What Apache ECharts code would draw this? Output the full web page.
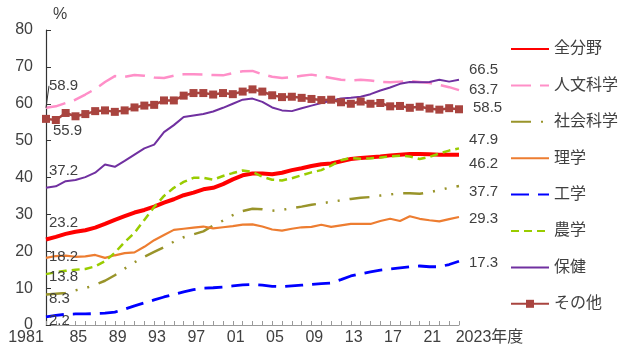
<!DOCTYPE html>
<html>
<head>
<meta charset="utf-8">
<script src="https://cdn.jsdelivr.net/npm/echarts@6.0.0/dist/echarts.min.js"></script>
<style>
  html, body { margin: 0; padding: 0; background: #fff; }
  #chart { width: 619px; height: 347px; }
</style>
</head>
<body>
<div id="chart"></div>
<script>
// 専攻分野別の女性比率（%）、1981〜2023年度
const years = ['1981','1982','1983','1984','1985','1986','1987','1988','1989','1990',
  '1991','1992','1993','1994','1995','1996','1997','1998','1999','2000',
  '2001','2002','2003','2004','2005','2006','2007','2008','2009','2010',
  '2011','2012','2013','2014','2015','2016','2017','2018','2019','2020',
  '2021','2022','2023'];

const tickYears = ['1981','1985','1989','1993','1997','2001','2005','2009','2013','2017','2021','2023'];
const tickTexts = ['1981','85','89','93','97','01','05','09','13','17','21','2023年度'];

const seriesNames = ['全分野','人文科学','社会科学','理学','工学','農学','保健','その他'];

const allFields = [23.2,23.9,24.7,25.3,25.7,26.4,27.4,28.5,29.5,30.5,31.2,32.1,33.2,34.1,35.2,
  35.9,36.8,37.2,38.2,39.5,40.6,41.1,41.1,40.9,41.3,42.0,42.5,43.1,43.6,
  43.8,44.4,45.0,45.3,45.5,45.7,46.0,46.2,46.4,46.4,46.3,46.2,46.2,46.2];
const humanities = [58.9,59.3,60.2,61.1,62.5,64.0,65.9,67.5,67.3,67.8,67.6,67.1,67.0,67.6,68.0,
  68.0,67.9,67.8,67.7,68.3,68.8,68.9,68.0,67.3,67.0,67.2,67.6,67.9,67.5,
  67.0,66.5,66.3,66.5,66.3,65.9,65.8,66.0,66.2,65.9,65.6,65.1,64.5,63.7];
const socialSci = [8.3,8.5,8.7,9.4,10.0,10.9,12.0,13.5,15.3,17.0,18.5,19.8,21.1,22.6,23.8,
  24.6,25.4,27.0,28.3,29.8,30.9,31.5,31.4,31.0,31.2,31.7,32.1,32.6,33.0,
  33.4,33.8,34.2,34.5,34.7,35.1,35.4,35.7,35.7,35.6,36.0,36.6,37.2,37.7];
const science = [18.2,18.7,18.8,18.5,18.6,19.0,18.2,18.9,19.5,19.7,21.2,23.0,24.4,25.8,26.1,
  26.4,26.7,26.2,26.5,26.8,27.2,27.3,26.7,25.9,25.6,26.1,26.5,26.6,27.2,
  26.6,27.0,27.4,27.4,27.4,28.2,28.8,28.2,29.5,28.8,28.4,28.1,28.7,29.3];
const engineering = [2.2,2.6,2.9,3.0,3.0,3.1,3.2,3.5,4.3,5.2,6.0,6.8,7.6,8.3,9.0,
  9.6,10.0,10.1,10.3,10.6,10.9,11.0,10.8,10.5,10.4,10.6,10.8,11.0,11.2,
  11.4,12.3,13.3,13.9,14.4,14.9,15.2,15.5,15.8,16.0,15.8,15.8,16.4,17.3];
const agriculture = [13.8,14.3,14.7,15.0,15.2,15.9,17.3,19.6,22.5,25.0,28.5,32.0,35.0,37.2,38.8,
  39.9,39.9,39.4,40.4,41.2,41.9,41.5,40.2,39.4,39.2,39.8,40.6,41.4,42.0,
  43.2,44.7,45.3,45.1,45.2,45.4,45.7,45.9,45.7,45.0,45.6,46.5,47.3,47.9];
const health = [37.2,37.6,39.0,39.3,40.1,41.3,43.5,42.9,44.5,46.2,47.9,48.9,52.3,54.2,56.4,
  56.8,57.2,57.9,58.9,60.0,61.1,61.4,60.5,59.0,58.2,58.0,58.8,59.5,60.2,
  60.8,61.4,61.6,61.9,62.6,63.6,64.4,65.4,65.9,65.8,65.9,66.5,66.0,66.5];
const others = [55.9,55.6,57.5,56.6,57.2,58.0,58.2,57.8,58.2,59.0,59.5,59.7,60.9,60.9,62.2,
  62.9,62.9,62.5,62.9,62.6,63.3,63.9,63.3,62.3,61.8,61.9,61.6,61.3,61.0,
  61.1,60.4,60.0,60.6,60.0,60.2,59.3,59.4,58.9,59.2,58.7,58.4,58.8,58.5];

const seriesValues = [allFields, humanities, socialSci, science, engineering, agriculture, health, others];

// Line appearance and the vertical nudges of the first/last value labels.
// "guide" moves the first label with a leader line back to its point.
const looks = [
  { color: '#ff0000', width: 4,   type: 'solid',          symbol: 'none', startDy: -17, endDy: 9 },
  { color: '#ff8fc8', width: 2.5, type: [20, 9],          symbol: 'none', startDy: 0, endDy: -2, guide: -22 },
  { color: '#99942a', width: 2.5, type: [20, 10, 2, 10, 2, 10], symbol: 'none', startDy: 4, endDy: 6 },
  { color: '#ed7d31', width: 2.2, type: 'solid',          symbol: 'none', startDy: -1, endDy: 2 },
  { color: '#0000ff', width: 2.8, type: [18, 9],          symbol: 'none', startDy: 4, endDy: 2 },
  { color: '#99cc00', width: 2.5, type: [8, 5],           symbol: 'none', startDy: 3, endDy: -9 },
  { color: '#7030a0', width: 2,   type: 'solid',          symbol: 'none', startDy: -17, endDy: -10 },
  { color: '#a9443f', width: 2.5, type: 'solid',          symbol: 'rect', startDy: 12, endDy: -1 }
];

const FONT = "'Liberation Sans', Arial, 'Noto Sans CJK JP', sans-serif";
const TEXT = '#404040';

function valueLabel(dy, dist) {
  return {
    show: true, position: 'right', distance: dist, offset: [0, dy],
    color: TEXT, fontSize: 15, fontFamily: FONT,
    formatter: p => Number(p.value).toFixed(1)
  };
}

const series = seriesNames.map((name, k) => {
  const look = looks[k];
  const vals = seriesValues[k];
  const last = vals.length - 1;
  const data = vals.map((v, i) => {
    if (i !== 0 && i !== last) return v;
    const item = {
      value: v,
      label: i === 0 ? valueLabel(look.startDy, 3) : valueLabel(look.endDy, 10)
    };
    if (i === 0 && look.guide !== undefined) {
      item.labelLine = { show: true, lineStyle: { color: '#333333', width: 1 } };
    }
    if (look.symbol === 'none') { item.symbol = 'circle'; item.symbolSize = 0; }
    return item;
  });
  const s = {
    name: name,
    type: 'line',
    data: data,
    symbol: look.symbol,
    symbolSize: 8,
    showSymbol: true,
    showAllSymbol: true,
    clip: false,
    itemStyle: { color: look.color },
    lineStyle: { color: look.color, width: look.width, type: look.type },
    emphasis: { disabled: true }
  };
  if (look.guide !== undefined) {
    s.labelLayout = params => (params.dataIndex === 0 ? { dy: look.guide } : {});
  }
  return s;
});

// Only その他 carries a marker in its legend key
const legendData = seriesNames.map((name, k) => (
  looks[k].symbol === 'none' ? { name: name, itemStyle: { opacity: 0 } } : { name: name }
));

function tickLabel(value) {
  const idx = tickYears.indexOf(value);
  if (idx < 0) return '';
  const text = tickTexts[idx];
  if (idx === 0) return '{first|' + text + '}';
  if (idx === tickTexts.length - 1) return '{last|' + text + '}';
  return '{mid|' + text + '}';
}

const chart = echarts.init(document.getElementById('chart'), null, { renderer: 'canvas' });
chart.setOption({
  animation: false,
  backgroundColor: '#ffffff',
  textStyle: { fontFamily: FONT },
  grid: { left: 46, right: 160, top: 30, bottom: 22, containLabel: false },
  legend: {
    orient: 'vertical',
    left: 505,
    top: 36,
    itemWidth: 38,
    itemHeight: 10,
    itemGap: 20.4,
    textStyle: { fontSize: 16, lineHeight: 16, color: TEXT, fontFamily: FONT },
    data: legendData
  },
  xAxis: {
    type: 'category',
    boundaryGap: false,
    data: years,
    axisLine: { lineStyle: { color: '#9a9a9a', width: 1 } },
    axisTick: { show: true, inside: true, length: 4, interval: 0, lineStyle: { color: '#9a9a9a' } },
    axisLabel: {
      interval: 0,
      margin: 5,
      color: TEXT,
      fontSize: 16,
      fontFamily: FONT,
      formatter: tickLabel,
      rich: {
        first: { fontSize: 16, color: TEXT, fontFamily: FONT, padding: [0, 40, 0, 0] },
        mid: { fontSize: 16, color: TEXT, fontFamily: FONT, padding: [0, 14, 0, 0] },
        last: { fontSize: 16, color: TEXT, fontFamily: FONT, padding: [0, 0, 0, 61] }
      }
    },
    splitLine: { show: false }
  },
  yAxis: {
    type: 'value',
    min: 0,
    max: 80,
    interval: 10,
    name: '%',
    nameLocation: 'end',
    nameGap: 15,
    nameTextStyle: { fontSize: 16, color: TEXT, fontFamily: FONT, align: 'left', verticalAlign: 'middle', padding: [0, 0, 0, 7] },
    axisLine: { show: true, lineStyle: { color: '#333333', width: 1.2 } },
    axisTick: { show: true, inside: true, length: 5, lineStyle: { color: '#333333' } },
    axisLabel: { color: TEXT, fontSize: 16, fontFamily: FONT, margin: 13 },
    splitLine: { show: false }
  },
  series: series
});
</script>
</body>
</html>
